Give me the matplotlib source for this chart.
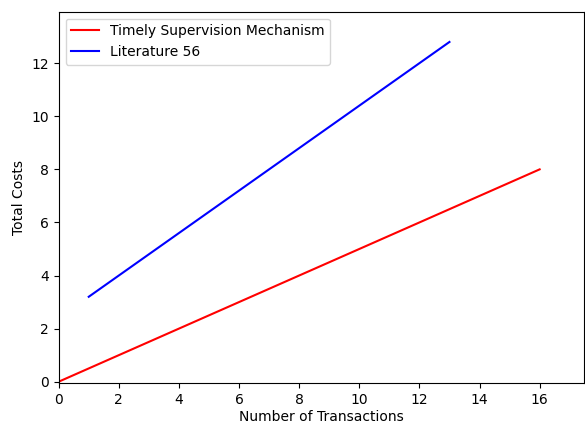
import matplotlib
matplotlib.use('Agg')
import matplotlib.pyplot as plt

# transactions vs. total costs
tsm_x = [0, 16]
tsm_cost = [0, 8]
lit_x = [1, 13]
lit_cost = [3.2, 12.8]

fig = plt.figure(figsize=(5.85, 4.24), dpi=100)
ax = fig.add_axes([0.1003, 0.096, 0.8977, 0.8764])

ax.plot(tsm_x, tsm_cost, color='red', label='Timely Supervision Mechanism')
ax.plot(lit_x, lit_cost, color='blue', label='Literature 56')

ax.set_xlim(0, 17.47)
ax.set_ylim(-0.06, 13.94)
ax.set_xticks(range(0, 17, 2))
ax.set_yticks(range(0, 13, 2))
ax.set_xlabel('Number of Transactions', labelpad=2.5)
ax.set_ylabel('Total Costs')
ax.legend(loc='upper left')

fig.savefig('out.png')
